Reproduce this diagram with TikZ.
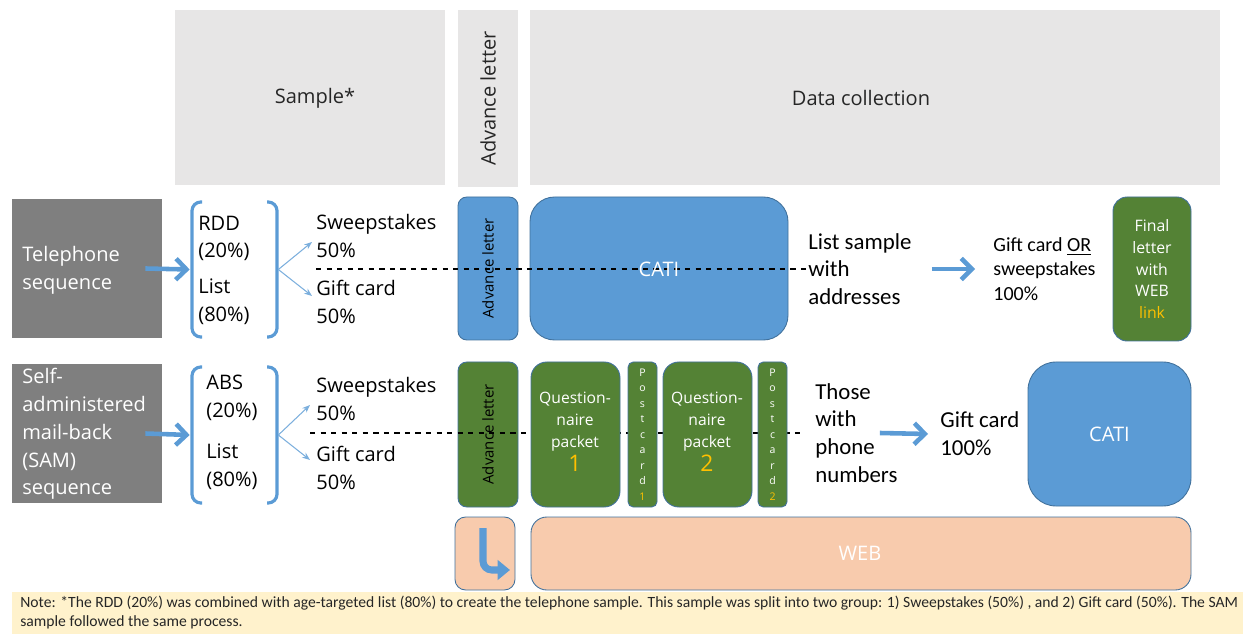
\documentclass[tikz,border=0pt]{standalone}
\usepackage{fontspec}
\setmainfont{Open Sans}
\newfontfamily\calfont{Carlito}
\usetikzlibrary{arrows.meta,fit}
\definecolor{hdrgray}{HTML}{E7E6E6}
\definecolor{seqgray}{HTML}{7F7F7F}
\definecolor{catiblue}{HTML}{5B9BD5}
\definecolor{boxline}{HTML}{41719C}
\definecolor{mailgreen}{HTML}{548235}
\definecolor{webpeach}{HTML}{F8CBAD}
\definecolor{notebg}{HTML}{FFF2CC}
\definecolor{linkgold}{HTML}{FFC000}
\begin{document}
\begin{tikzpicture}[x=0.02cm, y=-0.02cm,
   every node/.style={inner sep=0pt},
   hdr/.style={fill=hdrgray},
   hdrtxt/.style={font=\fontsize{11.4}{15.8}\selectfont, text=black!85},
   seq/.style={fill=seqgray},
   seqtxt/.style={font=\fontsize{11.4}{15.8}\selectfont, text=white, align=left, anchor=west},
   lbl/.style={font=\fontsize{11.4}{15.8}\selectfont, align=left, anchor=west},
   rlbl/.style={font=\calfont\fontsize{13}{15.8}\selectfont, align=left, anchor=west},
   bluebox/.style={fill=catiblue, draw=boxline, line width=0.5pt, rounded corners=#1},
   greenbox/.style={fill=mailgreen, draw=boxline, line width=0.5pt, rounded corners=#1},
   peachbox/.style={fill=webpeach, draw=boxline, line width=0.5pt, rounded corners=#1},
   advtxt/.style={font=\fontsize{8.5}{10}\selectfont, rotate=90},
   wtxt/.style={text=white, align=center},
   cardtxt/.style={font=\fontsize{6}{8.8}\selectfont, text=white, align=center},
   bigarrow/.style={-{Straight Barb[length=6pt,width=12pt]}, line width=2.6pt, draw=catiblue},
   thinarrow/.style={-{Stealth[length=4.5pt,width=3.5pt]}, draw=catiblue!80, line width=0.6pt},
   split/.style={dashed, line width=0.6pt},
   brace/.style={draw=catiblue, line width=1.8pt, rounded corners=5pt}]
\useasboundingbox (0,0) rectangle (1243,634);

% column headers
\node[hdr, fit={(175,10) (445,185)}] (sampleHdr) {};
\node[hdrtxt] at (315,98) {Sample*};
\node[hdr, fit={(458,10) (518,187)}] (advHdr) {};
\node[hdrtxt, rotate=90] at (advHdr.center) {Advance letter};
\node[hdr, fit={(530,10) (1220,185)}] (dataHdr) {};
\node[hdrtxt] at (861,98) {Data collection};

% telephone sequence
\node[seq, fit={(12,199) (162,338)}] (telSeq) {};
\node[seqtxt] at (22,270) {Telephone\\sequence};
\node[fit={(190,202) (278,337)}] (telSrc) {};
\draw[brace] (202,202) -- (192,202) -- (192,337) -- (202,337);
\draw[brace] (267,202) -- (277,202) -- (277,337) -- (267,337);
\node[lbl] at (198,238.5) {RDD\\(20\%)};
\node[lbl] at (198,302) {List\\(80\%)};
\node[lbl] (telSweep) at (316,236) {Sweepstakes\\50\%};
\node[lbl] (telGiftA) at (316,302) {Gift card\\50\%};
\draw[bigarrow] ([xshift=-0.34cm]telSeq.east) -- (telSrc.west);
\draw[thinarrow] (telSrc.east) -- ([xshift=-0.08cm, yshift=-0.12cm]telSweep.west);
\draw[thinarrow] (telSrc.east) -- ([xshift=-0.08cm, yshift=0.12cm]telGiftA.west);

\node[bluebox=5pt, fit={(458,197) (518,340)}] (telAdv) {};
\node[advtxt] at (telAdv.center) {Advance letter};
\node[bluebox=14pt, fit={(530,197) (788,340)}] (telCati) {};
\node[rlbl] (telList) at (808,269) {List sample\\with\\addresses};
\coordinate (telDashA) at (316,269);
\draw[split] (telDashA) -- (telList.west);
\node[wtxt, font=\fontsize{11.4}{14}\selectfont] at (659,269) {CATI};
\node[font=\calfont\fontsize{11.4}{14}\selectfont, align=left, anchor=west] (telGiftB) at (993,269) {Gift card \underline{OR}\\sweepstakes\\100\%};
\draw[bigarrow] ([xshift=0.4cm]telList.east) -- ([xshift=-0.36cm]telGiftB.west);
\node[greenbox=8pt, fit={(1113,197) (1191,341)}] (telFinal) {};
\node[wtxt, font=\fontsize{9}{12.5}\selectfont] at (telFinal.center) {Final\\letter\\with\\WEB\\{\color{linkgold}link}};

% self-administered mail-back sequence
\node[seq, fit={(12,364) (162,503)}] (samSeq) {};
\node[seqtxt] at (22,434) {Self-\\administered\\mail-back\\(SAM)\\sequence};
\node[fit={(190,367) (278,503)}] (samSrc) {};
\draw[brace] (202,367) -- (192,367) -- (192,503) -- (202,503);
\draw[brace] (267,367) -- (277,367) -- (277,503) -- (267,503);
\node[lbl] at (206,397.5) {ABS\\(20\%)};
\node[lbl] at (206,467) {List\\(80\%)};
\node[lbl] (samSweep) at (316,399) {Sweepstakes\\50\%};
\node[lbl] (samGiftA) at (316,468) {Gift card\\50\%};
\draw[bigarrow] ([xshift=-0.34cm]samSeq.east) -- (samSrc.west);
\draw[thinarrow] (samSrc.east) -- ([xshift=-0.12cm, yshift=-0.12cm]samSweep.west);
\draw[thinarrow] (samSrc.east) -- ([xshift=-0.12cm, yshift=0.16cm]samGiftA.west);

\node[greenbox=5pt, fit={(458,362) (518,507)}] (samAdv) {};
\node[advtxt] at (samAdv.center) {Advance letter};
\node[rlbl] (samThose) at (815,433) {Those\\with\\phone\\numbers};
\coordinate (samDashA) at (310,433);
\draw[split, shorten >=0.3cm] (samDashA) -- (samThose.west);
\node[greenbox=9pt, fit={(531,362) (620,507)}] (samPackA) {};
\node[wtxt, font=\fontsize{8.9}{12.5}\selectfont] at (575,432) {Question-\\naire\\packet\\[1pt]{\color{linkgold}\fontsize{13}{13}\selectfont 1}};
\node[greenbox=3pt, fit={(628,362) (657,507)}] (samCardA) {};
\node[cardtxt] at (samCardA.center) {P\\o\\s\\t\\c\\a\\r\\d\\{\color{linkgold}1}};
\node[greenbox=9pt, fit={(663,362) (752,507)}] (samPackB) {};
\node[wtxt, font=\fontsize{8.9}{12.5}\selectfont] at (707,432) {Question-\\naire\\packet\\[1pt]{\color{linkgold}\fontsize{13}{13}\selectfont 2}};
\node[greenbox=3pt, fit={(758,362) (787,507)}] (samCardB) {};
\node[cardtxt] at (samCardB.center) {P\\o\\s\\t\\c\\a\\r\\d\\{\color{linkgold}2}};
\node[rlbl] (samGiftB) at (940,434) {Gift card\\100\%};
\draw[bigarrow] ([xshift=-0.36cm]samThose.east) -- ([xshift=-0.24cm]samGiftB.west);
\node[bluebox=16pt, fit={(1028,362) (1191,506)}] (samCati) {};
\node[wtxt, font=\fontsize{11.4}{14}\selectfont] at (samCati.center) {CATI};

% web follow-up
\node[peachbox=6pt, fit={(455,517) (515,590)}] (webIcon) {};
\draw[line width=4pt, draw=catiblue, rounded corners=5pt, -{Triangle[length=7pt,width=11pt]}] (483,528) -- (483,570) -- (510,570);
\node[peachbox=9pt, fit={(531,517) (1191,590)}] (webBox) {};
\node[wtxt, font=\fontsize{11.4}{14}\selectfont] at (860,553) {WEB};

% note
\node[fill=notebg, fit={(12,592) (1243,634)}] (noteBox) {};
\node[font=\calfont\fontsize{8.9}{10.7}\selectfont, align=left, anchor=north west, text=black!85] at (20,596) {Note: *The RDD (20\%) was combined with age-targeted list (80\%) to create the telephone sample. This sample was split into two group: 1) Sweepstakes (50\%) , and 2) Gift card (50\%). The SAM\\sample followed the same process.};
\end{tikzpicture}
\end{document}
